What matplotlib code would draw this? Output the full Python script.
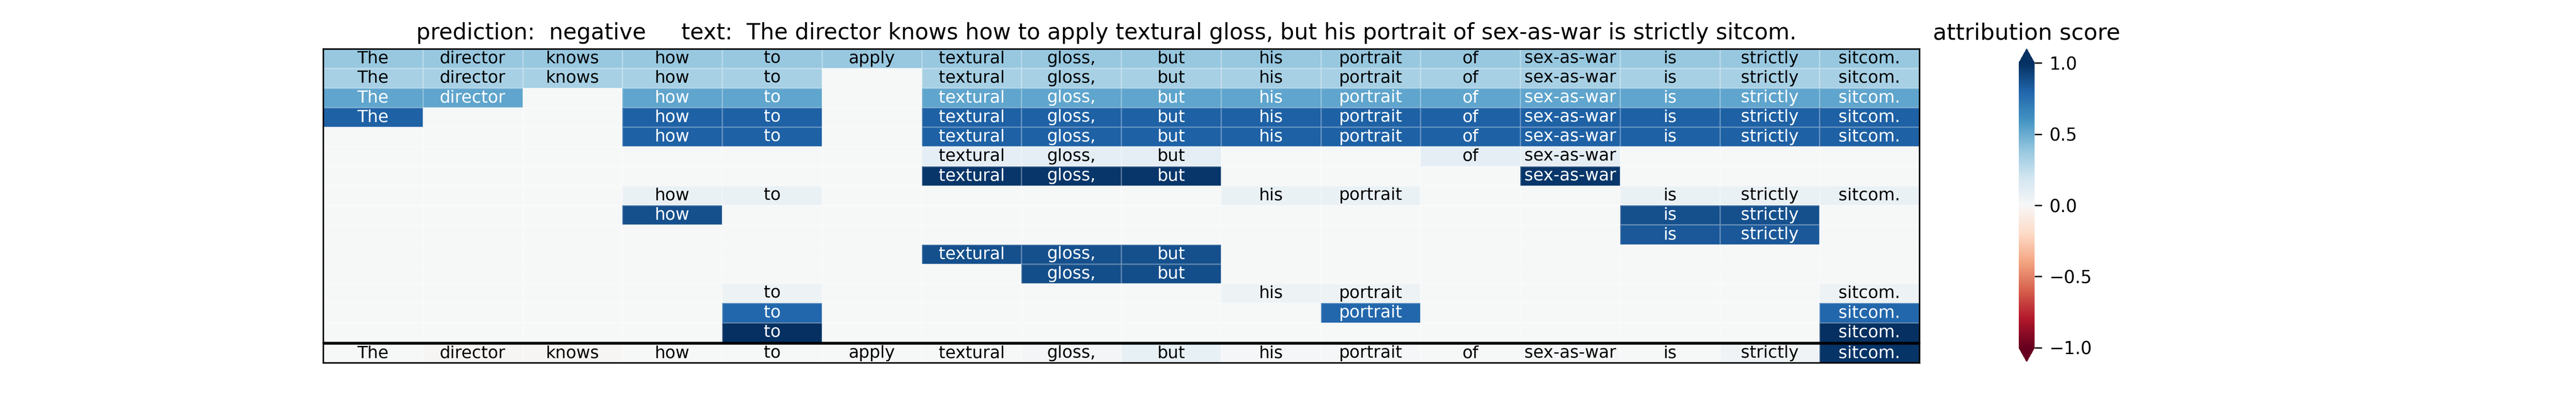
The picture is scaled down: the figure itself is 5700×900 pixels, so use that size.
import numpy as np
import matplotlib
matplotlib.use("Agg")
import matplotlib.pyplot as plt

# tokens of the sentence
words = ["The", "director", "knows", "how", "to", "apply", "textural", "gloss,",
         "but", "his", "portrait", "of", "sex-as-war", "is", "strictly", "sitcom."]

# which tokens each explained phrase covers (top to bottom)
phrase_words = [
    [0, 1, 2, 3, 4, 5, 6, 7, 8, 9, 10, 11, 12, 13, 14, 15],
    [0, 1, 2, 3, 4, 6, 7, 8, 9, 10, 11, 12, 13, 14, 15],
    [0, 1, 3, 4, 6, 7, 8, 9, 10, 11, 12, 13, 14, 15],
    [0, 3, 4, 6, 7, 8, 9, 10, 11, 12, 13, 14, 15],
    [3, 4, 6, 7, 8, 9, 10, 11, 12, 13, 14, 15],
    [6, 7, 8, 11, 12],
    [6, 7, 8, 12],
    [3, 4, 9, 10, 13, 14, 15],
    [3, 13, 14],
    [13, 14],
    [6, 7, 8],
    [7, 8],
    [4, 9, 10, 15],
    [4, 10, 15],
    [4, 15],
]
# attribution score of each phrase
phrase_scores = [0.38, 0.33, 0.53, 0.82, 0.82, 0.10, 0.97, 0.07, 0.88, 0.85,
                 0.88, 0.89, 0.05, 0.79, 1.0]
# single word scores (bottom row)
word_scores = [0.0, -0.01, -0.01, 0.0, 0.0, 0.0, 0.0, 0.02, 0.08, 0.01,
               0.01, 0.0, 0.01, 0.0, 0.04, 0.98]

title = ("prediction:  negative     text:  The director knows how to apply "
         "textural gloss, but his portrait of sex-as-war is strictly sitcom.")

W, H = 5700, 900
fig = plt.figure(figsize=(W / 100, H / 100), dpi=100)

left, right = 715, 4247
ax = fig.add_axes([left / W, (H - 757) / H, (right - left) / W, (757 - 108) / H])
ax2 = fig.add_axes([left / W, (H - 802) / H, (right - left) / W, (802 - 760) / H])

n_rows, n_cols = len(phrase_words), len(words)
M = np.zeros((n_rows, n_cols))
for i, idx in enumerate(phrase_words):
    M[i, idx] = phrase_scores[i]

edge = (1, 1, 1, 0.25)
mesh = ax.pcolormesh(M, cmap="RdBu", vmin=-1, vmax=1, edgecolors=edge, linewidth=0.8)
ax.set_xlim(0, n_cols)
ax.set_ylim(n_rows, 0)
for i, idx in enumerate(phrase_words):
    for j in idx:
        c = "white" if phrase_scores[i] > 0.5 else "black"
        ax.text(j + 0.5, i + 0.5, words[j], ha="center", va="center",
                fontsize=27, color=c)

ax2.pcolormesh(np.array([word_scores]), cmap="RdBu", vmin=-1, vmax=1,
               edgecolors=edge, linewidth=0.8)
ax2.set_xlim(0, n_cols)
ax2.set_ylim(1, 0)
for j, w in enumerate(words):
    c = "white" if word_scores[j] > 0.5 else "black"
    ax2.text(j + 0.5, 0.5, w, ha="center", va="center", fontsize=27, color=c)

for a in (ax, ax2):
    a.set_xticks([])
    a.set_yticks([])
    for s in a.spines.values():
        s.set_linewidth(2.4)

# colorbar
cax = fig.add_axes([4467 / W, (H - 800) / H, 35 / W, 692 / H])
cb = fig.colorbar(mesh, cax=cax, extend="both", ticks=[-1, -0.5, 0, 0.5, 1])
cb.outline.set_visible(False)
cb.ax.tick_params(labelsize=28, length=11.5, width=2.2, pad=12)
cb.ax.set_yticklabels(["\u22121.0", "\u22120.5", "0.0", "0.5", "1.0"])

fig.text(2448 / W, (H - 87) / H, title, ha="center", va="baseline", fontsize=35.3)
fig.text(4484 / W, (H - 87) / H, "attribution score", ha="center",
         va="baseline", fontsize=36)

fig.savefig("out.png", dpi=100)
